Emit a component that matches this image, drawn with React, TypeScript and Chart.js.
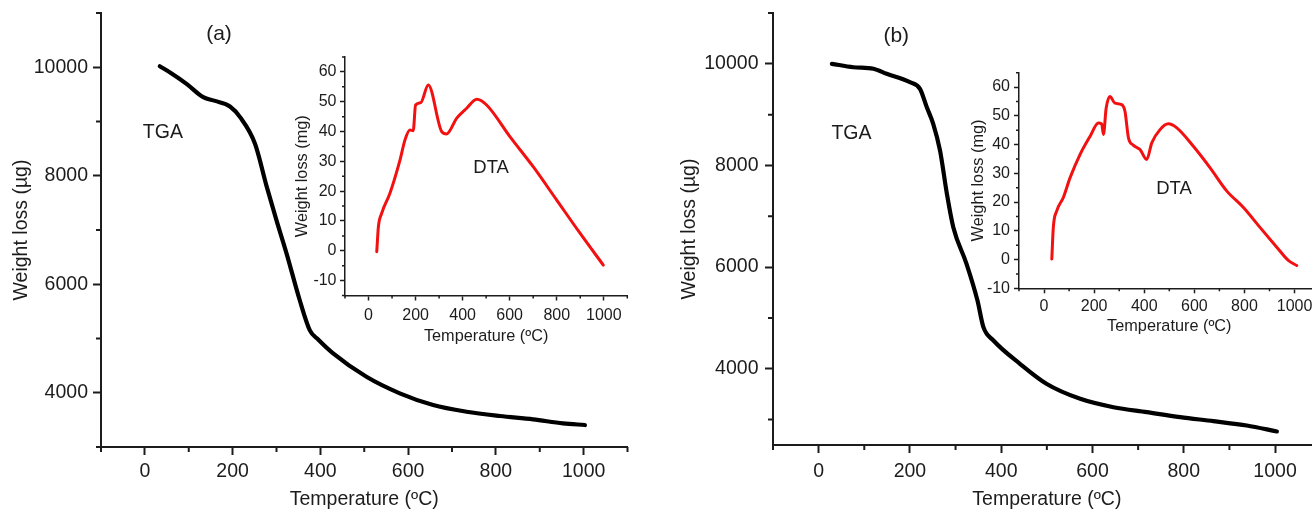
import React, { useEffect, useRef } from 'react';
import { Chart, registerables } from 'chart.js';

Chart.register(...registerables);

// ---------- data ----------
const TGA_A_TEMP = [34, 60, 95, 133, 160, 194, 217, 251, 278, 300, 323, 353, 376, 395, 429, 505, 581, 657, 733, 809, 885, 953, 1003];
const TGA_A_WEIGHT = [10018, 9890, 9694, 9448, 9380, 9277, 9080, 8590, 7791, 7178, 6566, 5705, 5150, 4980, 4725, 4294, 3989, 3773, 3650, 3571, 3510, 3436, 3405];

const TGA_B_TEMP = [29, 76, 120, 149, 200, 222, 237, 251, 266, 281, 295, 324, 348, 361, 383, 441, 499, 573, 646, 719, 792, 865, 938, 1004];
const TGA_B_WEIGHT = [10000, 9933, 9902, 9803, 9638, 9508, 9146, 8820, 8294, 7442, 6785, 6065, 5343, 4818, 4556, 4098, 3705, 3409, 3244, 3146, 3048, 2969, 2884, 2766];

const DTA_A_TEMP = [35, 42, 56, 91, 134, 155, 176, 190, 200, 222, 254, 311, 332, 375, 417, 460, 502, 601, 700, 800, 899, 998];
const DTA_A_VALUE = [-0.3, 8.1, 12.6, 19.3, 30.5, 37.2, 40.5, 40.3, 48.9, 49.7, 55.6, 40.0, 39.2, 44.5, 47.8, 50.8, 48.9, 38.3, 28.2, 17.0, 5.9, -4.8];

const DTA_B_TEMP = [31, 37, 51, 77, 104, 144, 184, 217, 230, 237, 248, 263, 283, 310, 323, 337, 356, 383, 410, 430, 463, 496, 530, 596, 663, 729, 796, 862, 929, 975, 1009];
const DTA_B_VALUE = [0.2, 11.2, 17.0, 21.6, 28.5, 36.6, 42.9, 47.5, 47.2, 43.5, 52.7, 56.7, 54.4, 53.9, 51.6, 42.3, 39.8, 38.3, 34.8, 40.6, 45.2, 47.2, 45.8, 39.4, 31.9, 23.9, 18.1, 11.2, 4.3, -0.3, -2.1];

// ---------- tick values ----------
const TEMP_MAJOR = [0, 200, 400, 600, 800, 1000];
const TEMP_MINOR = [-100, 100, 300, 500, 700, 900, 1100];
const TGA_A_MAJOR = [4000, 6000, 8000, 10000];
const TGA_A_MINOR = [3000, 5000, 7000, 9000, 11000];
const TGA_B_MAJOR = [4000, 6000, 8000, 10000];
const TGA_B_MINOR = [3000, 5000, 7000, 9000, 11000];
const DTA_MAJOR = [-10, 0, 10, 20, 30, 40, 50, 60];
const DTA_A_MINOR = [-15, -5, 5, 15, 25, 35, 45, 55, 65];
const DTA_B_MINOR = [-5, 5, 15, 25, 35, 45, 55, 65];

const X_TITLE = 'Temperature (ºC)';
const Y_TITLE_MAIN = 'Weight loss (µg)';
const Y_TITLE_INSET = 'Weight loss (mg)';

const FONT = "'Liberation Sans', Arial, Helvetica, sans-serif";
const INK = '#1c1c1c';
const RED = '#f21010';
const BLACK = '#000000';

type Note = { text: string; x: number; y: number; size: number };

type Panel = {
  box: { left: number; top: number; width: number; height: number };
  area: { left: number; top: number; right: number; bottom: number };
  xRange: [number, number];
  yRange: [number, number];
  xMajor: number[];
  xMinor: number[];
  yMajor: number[];
  yMinor: number[];
  xs: number[];
  ys: number[];
  color: string;
  lineWidth: number;
  axisWidth: number;
  majorLen: number;
  minorLen: number;
  tickFont: number;
  titleFont: number;
  xTickPad: number;
  yTickPad: number;
  xTitlePad: number;
  yTitlePad: number;
  yTitle: string;
  notes: Note[];
};

function makeConfig(p: Panel): any {
  const padTop = p.area.top - p.box.top;
  const padRight = p.box.left + p.box.width - p.area.right;
  const yWidth = p.area.left - p.box.left;
  const xHeight = p.box.top + p.box.height - p.area.bottom;

  const minorPlugin = {
    id: 'minorTicks',
    afterDraw(chart: any) {
      const { ctx, chartArea, scales } = chart;
      ctx.save();
      ctx.strokeStyle = INK;
      ctx.lineWidth = p.axisWidth;
      ctx.beginPath();
      p.xMinor.forEach((v) => {
        const px = scales.x.getPixelForValue(v);
        ctx.moveTo(px, chartArea.bottom);
        ctx.lineTo(px, chartArea.bottom + p.minorLen);
      });
      p.yMinor.forEach((v) => {
        const py = scales.y.getPixelForValue(v);
        ctx.moveTo(chartArea.left, py);
        ctx.lineTo(chartArea.left - p.minorLen, py);
      });
      ctx.stroke();
      ctx.restore();
    },
  };

  const notePlugin = {
    id: 'notes',
    afterDraw(chart: any) {
      const { ctx, scales } = chart;
      ctx.save();
      ctx.fillStyle = INK;
      ctx.textAlign = 'center';
      ctx.textBaseline = 'middle';
      p.notes.forEach((n) => {
        ctx.font = `${n.size}px ${FONT}`;
        ctx.fillText(n.text, scales.x.getPixelForValue(n.x), scales.y.getPixelForValue(n.y));
      });
      ctx.restore();
    },
  };

  const tickFont = { family: FONT, size: p.tickFont };
  const titleFont = { family: FONT, size: p.titleFont };

  return {
    type: 'line',
    data: {
      datasets: [
        {
          data: p.xs.map((x, i) => ({ x, y: p.ys[i] })),
          borderColor: p.color,
          borderWidth: p.lineWidth,
          pointRadius: 0,
          fill: false,
          cubicInterpolationMode: 'monotone',
          borderCapStyle: 'round',
          borderJoinStyle: 'round',
        },
      ],
    },
    options: {
      responsive: false,
      animation: false,
      devicePixelRatio: 1,
      events: [],
      layout: { padding: { left: 0, top: padTop, right: padRight, bottom: 0 } },
      plugins: { legend: { display: false }, tooltip: { enabled: false } },
      scales: {
        x: {
          type: 'linear',
          min: p.xRange[0],
          max: p.xRange[1],
          afterBuildTicks: (s: any) => {
            s.ticks = p.xMajor.map((v) => ({ value: v }));
          },
          afterFit: (s: any) => {
            s.height = xHeight;
            s.paddingLeft = 0;
            s.paddingRight = 0;
            s.paddingTop = 0;
            s.paddingBottom = 0;
          },
          border: { display: true, color: INK, width: p.axisWidth },
          grid: {
            display: true,
            drawOnChartArea: false,
            drawTicks: true,
            tickLength: p.majorLen,
            tickColor: INK,
            tickWidth: p.axisWidth,
            color: INK,
          },
          ticks: {
            color: INK,
            font: tickFont,
            padding: p.xTickPad,
            maxRotation: 0,
            autoSkip: false,
            callback: (v: any) => String(v),
          },
          title: {
            display: true,
            text: X_TITLE,
            color: INK,
            font: titleFont,
            padding: { top: 0, bottom: p.xTitlePad },
          },
        },
        y: {
          type: 'linear',
          min: p.yRange[0],
          max: p.yRange[1],
          afterBuildTicks: (s: any) => {
            s.ticks = p.yMajor.map((v) => ({ value: v }));
          },
          afterFit: (s: any) => {
            s.width = yWidth;
            s.paddingLeft = 0;
            s.paddingRight = 0;
            s.paddingTop = 0;
            s.paddingBottom = 0;
          },
          border: { display: true, color: INK, width: p.axisWidth },
          grid: {
            display: true,
            drawOnChartArea: false,
            drawTicks: true,
            tickLength: p.majorLen,
            tickColor: INK,
            tickWidth: p.axisWidth,
            color: INK,
          },
          ticks: {
            color: INK,
            font: tickFont,
            padding: p.yTickPad,
            autoSkip: false,
            callback: (v: any) => String(v),
          },
          title: {
            display: true,
            text: p.yTitle,
            color: INK,
            font: titleFont,
            padding: { top: p.yTitlePad, bottom: 0 },
          },
        },
      },
    },
    plugins: [minorPlugin, notePlugin],
  };
}

const PANELS: Panel[] = [
  {
    box: { left: 0, top: 0, width: 660, height: 512 },
    area: { left: 101, top: 13, right: 627.5, bottom: 447 },
    xRange: [-100, 1100],
    yRange: [3000, 11000],
    xMajor: TEMP_MAJOR,
    xMinor: TEMP_MINOR,
    yMajor: TGA_A_MAJOR,
    yMinor: TGA_A_MINOR,
    xs: TGA_A_TEMP,
    ys: TGA_A_WEIGHT,
    color: BLACK,
    lineWidth: 4.2,
    axisWidth: 2,
    majorLen: 8,
    minorLen: 5,
    tickFont: 19.5,
    titleFont: 19.5,
    xTickPad: 5,
    yTickPad: 5,
    xTitlePad: 1,
    yTitlePad: 10,
    yTitle: Y_TITLE_MAIN,
    notes: [
      { text: '(a)', x: 169, y: 10600, size: 21 },
      { text: 'TGA', x: 41, y: 8800, size: 19.5 },
    ],
  },
  {
    box: { left: 660, top: 0, width: 664, height: 512 },
    area: { left: 773, top: 13, right: 1320.7, bottom: 445 },
    xRange: [-100, 1100],
    yRange: [2500, 11000],
    xMajor: TEMP_MAJOR,
    xMinor: TEMP_MINOR,
    yMajor: TGA_B_MAJOR,
    yMinor: TGA_B_MINOR,
    xs: TGA_B_TEMP,
    ys: TGA_B_WEIGHT,
    color: BLACK,
    lineWidth: 4.2,
    axisWidth: 2,
    majorLen: 8,
    minorLen: 5,
    tickFont: 19.5,
    titleFont: 19.5,
    xTickPad: 7,
    yTickPad: 6.5,
    xTitlePad: 1,
    yTitlePad: 18.3,
    yTitle: Y_TITLE_MAIN,
    notes: [
      { text: '(b)', x: 170, y: 10540, size: 21 },
      { text: 'TGA', x: 72, y: 8630, size: 19.5 },
    ],
  },
  {
    box: { left: 270, top: 40, width: 370, height: 310 },
    area: { left: 345, top: 57, right: 627.3, bottom: 295.5 },
    xRange: [-100, 1100],
    yRange: [-15, 65],
    xMajor: TEMP_MAJOR,
    xMinor: TEMP_MINOR,
    yMajor: DTA_MAJOR,
    yMinor: DTA_A_MINOR,
    xs: DTA_A_TEMP,
    ys: DTA_A_VALUE,
    color: RED,
    lineWidth: 3,
    axisWidth: 1.5,
    majorLen: 5,
    minorLen: 3,
    tickFont: 16,
    titleFont: 16.3,
    xTickPad: 5.5,
    yTickPad: 3.5,
    xTitlePad: 4,
    yTitlePad: 23.2,
    yTitle: Y_TITLE_INSET,
    notes: [{ text: 'DTA', x: 521, y: 27.8, size: 18.5 }],
  },
  {
    box: { left: 950, top: 55, width: 375, height: 290 },
    area: { left: 1019, top: 72.7, right: 1319.6, bottom: 288.3 },
    xRange: [-100, 1100],
    yRange: [-10, 65],
    xMajor: TEMP_MAJOR,
    xMinor: TEMP_MINOR,
    yMajor: DTA_MAJOR,
    yMinor: DTA_B_MINOR,
    xs: DTA_B_TEMP,
    ys: DTA_B_VALUE,
    color: RED,
    lineWidth: 3,
    axisWidth: 1.5,
    majorLen: 5,
    minorLen: 3,
    tickFont: 16,
    titleFont: 16.3,
    xTickPad: 3.5,
    yTickPad: 4,
    xTitlePad: 8.3,
    yTitlePad: 18.3,
    yTitle: Y_TITLE_INSET,
    notes: [{ text: 'DTA', x: 519, y: 24.6, size: 18.5 }],
  },
];

function ChartBox({ panel }: { panel: Panel }) {
  const ref = useRef<HTMLCanvasElement | null>(null);
  useEffect(() => {
    if (!ref.current) return;
    const chart = new Chart(ref.current, makeConfig(panel));
    return () => chart.destroy();
  }, [panel]);
  return (
    <div
      style={{
        position: 'absolute',
        left: panel.box.left,
        top: panel.box.top,
        width: panel.box.width,
        height: panel.box.height,
      }}
    >
      <canvas ref={ref} width={panel.box.width} height={panel.box.height} style={{ display: 'block' }} />
    </div>
  );
}

export default function App() {
  return (
    <div
      style={{
        position: 'fixed',
        left: 0,
        top: 0,
        width: 1312,
        height: 512,
        overflow: 'hidden',
        background: '#ffffff',
      }}
    >
      {PANELS.map((p, i) => (
        <ChartBox key={i} panel={p} />
      ))}
    </div>
  );
}
